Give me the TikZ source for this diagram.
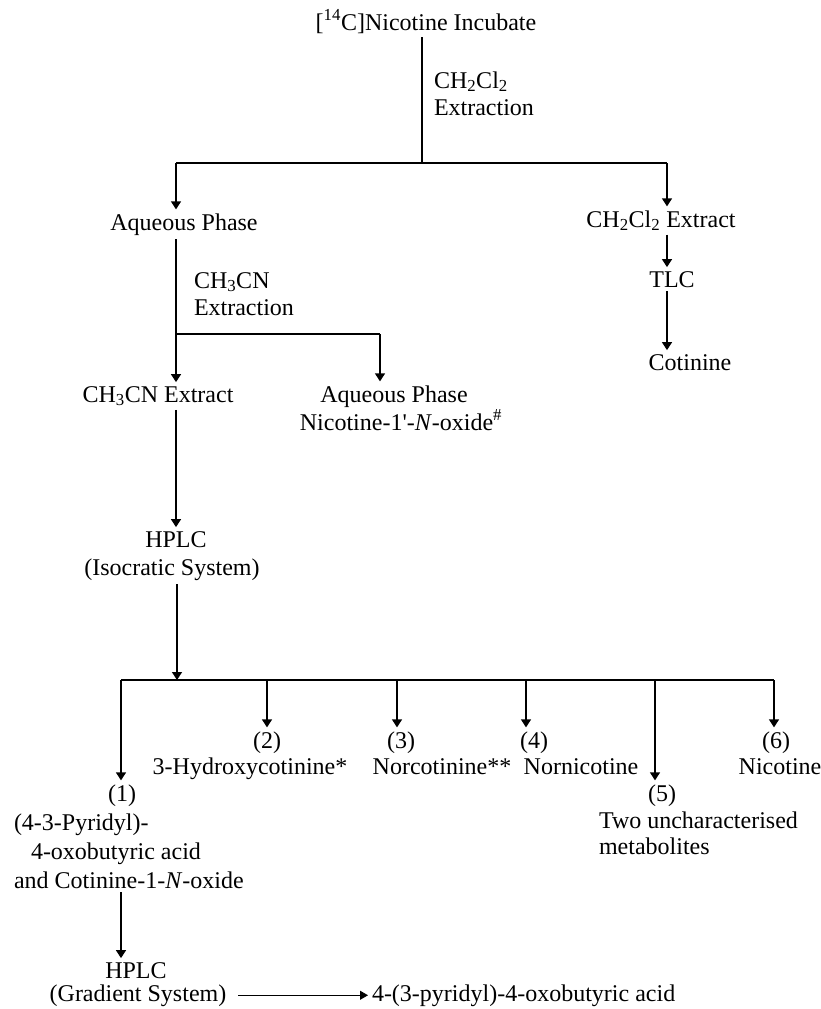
\documentclass[tikz,border=0pt]{standalone}
\usepackage{fontspec}
\setmainfont{Liberation Serif}
\usetikzlibrary{arrows.meta}
\begin{document}
\begin{tikzpicture}[x=1pt,y=-1pt,
  every node/.style={inner sep=0pt, outer sep=4pt, font=\fontsize{24}{27}\selectfont},
  txt/.style={anchor=base},
  lt/.style={anchor=base west},
  ln/.style={line width=1.3pt},
  bar/.style={line width=2pt},
  arr/.style={line width=1.3pt,-{Triangle[width=10pt,length=8pt]}},
  thinarr/.style={line width=0.9pt,-{Triangle[width=9pt,length=8pt]}}]
\useasboundingbox (0,0) rectangle (820,1009);

% top
\node[txt] (inc) at (426,30) {[\textsuperscript{14}C]Nicotine Incubate};
\coordinate (j1) at (422,163);
\draw[ln] (inc.south -| j1) -- (j1);
\node[lt] (e1a) at (430,88) {CH\textsubscript{2}Cl\textsubscript{2}};
\node[lt] (e1b) at (430,115) {Extraction};
\coordinate (jl) at (176,163);
\coordinate (jr) at (667,163);
\draw[bar] (jl) -- (jr);

\node[txt] (aq1) at (184,230) {Aqueous Phase};
\node[txt] (dce) at (661,227) {CH\textsubscript{2}Cl\textsubscript{2} Extract};
\draw[arr] (jl) -- (jl |- aq1.north);
\draw[arr] (jr) -- (jr |- dce.north);

% right branch
\node[txt] (tlc) at (672,287) {TLC};
\node[txt] (cot) at (690,370) {Cotinine};
\draw[arr] (dce.south -| jr) -- (tlc.north -| jr);
\draw[arr] (tlc.south -| jr) -- (cot.north -| jr);

% CH3CN branch
\coordinate (j2) at (176,334);
\coordinate (j2r) at (380,334);
\draw[ln] (aq1.south -| j2) -- (j2);
\node[lt] (e2a) at (190,288) {CH\textsubscript{3}CN};
\node[lt] (e2b) at (190,315) {Extraction};
\draw[bar] (j2) -- (j2r);
\node[txt] (ce) at (158,402) {CH\textsubscript{3}CN Extract};
\node[txt] (aq2) at (394,402) {Aqueous Phase};
\node[txt] (no) at (401,430) {Nicotine-1\textquotesingle-\textit{N}-oxide\textsuperscript{\#}};
\draw[arr] (j2) -- (j2 |- ce.north);
\draw[arr] (j2r) -- (j2r |- aq2.north);

% HPLC isocratic
\node[txt] (h1) at (176,547) {HPLC};
\node[txt] (h1b) at (172,575) {(Isocratic System)};
\draw[arr] (ce.south -| j2) -- (h1.north -| j2);
\coordinate (j3) at (177,680);
\coordinate (j3l) at (121,680);
\coordinate (j3r) at (774,680);
\draw[arr] (h1b.south -| j3) -- (j3);
\draw[bar] (j3l) -- (j3r);

% fractions
\coordinate (d2) at (267,680);
\coordinate (d3) at (397,680);
\coordinate (d4) at (526,680);
\coordinate (d5) at (655,680);

\node[txt] (n2) at (267,748) {(2)};
\node[txt] (t2) at (250,774) {3-Hydroxycotinine*};
\node[txt] (n3) at (401,748) {(3)};
\node[txt] (t3) at (442,774) {Norcotinine**};
\node[txt] (n4) at (534,748) {(4)};
\node[txt] (t4) at (581,774) {Nornicotine};
\node[txt] (n6) at (776,748) {(6)};
\node[txt] (t6) at (780,774) {Nicotine};
\draw[arr] (d2) -- (d2 |- n2.north);
\draw[arr] (d3) -- (d3 |- n3.north);
\draw[arr] (d4) -- (d4 |- n4.north);
\draw[arr] (j3r) -- (j3r |- n6.north);

\node[txt] (n5) at (662,801) {(5)};
\node[lt] (t5a) at (595,828) {Two uncharacterised};
\node[lt] (t5b) at (595,854) {metabolites};
\draw[arr] (d5) -- (d5 |- n5.north);

\node[txt] (n1) at (122,801) {(1)};
\node[lt] (p1) at (10,830) {(4-3-Pyridyl)-};
\node[lt] (p2) at (27,859) {4-oxobutyric acid};
\node[lt] (p3) at (10,888) {and Cotinine-1-\textit{N}-oxide};
\draw[arr] (j3l) -- (j3l |- n1.north);

% HPLC gradient
\node[txt] (h2) at (136,978) {HPLC};
\node[txt] (h2b) at (138,1001) {(Gradient System)};
\draw[arr] (p3.south -| j3l) -- (h2.north -| j3l);
\node[lt] (oxo) at (368,1001) {4-(3-pyridyl)-4-oxobutyric acid};
\draw[thinarr] ([xshift=8pt]h2b.east) -- (oxo.west);
\end{tikzpicture}
\end{document}
